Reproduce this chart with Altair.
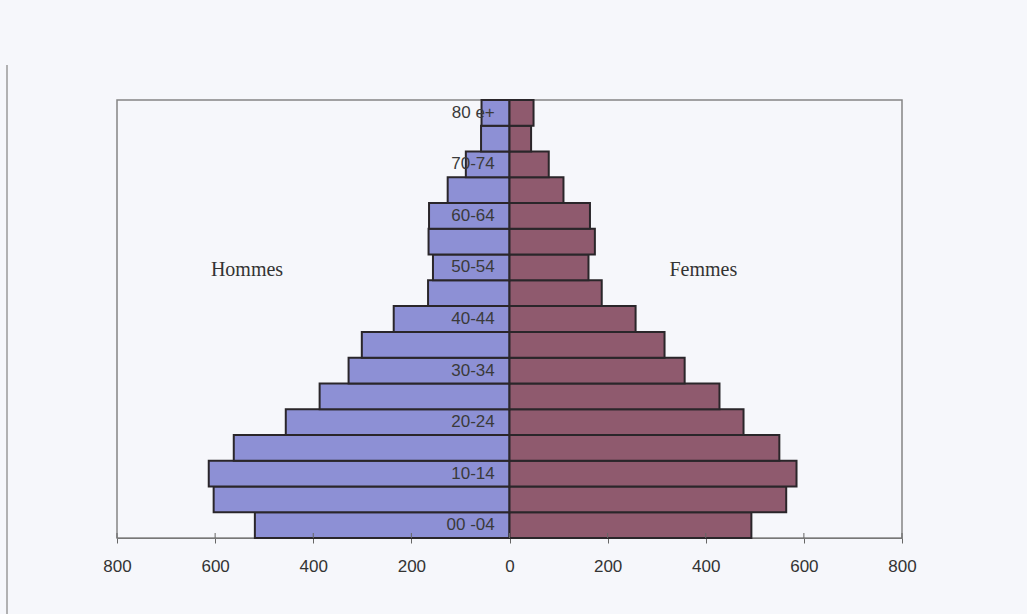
import altair as alt
import pandas as pd

# Age groups, bottom to top
ages = ["00 -04", "05-09", "10-14", "15-19", "20-24", "25-29", "30-34", "35-39",
        "40-44", "45-49", "50-54", "55-59", "60-64", "65-69", "70-74", "75-79", "80 e+"]
hommes = [519, 603, 613, 562, 456, 387, 328, 301, 236, 166, 156, 165, 164, 126, 89, 58, 57]
femmes = [493, 564, 585, 550, 477, 428, 357, 316, 257, 188, 161, 174, 164, 110, 80, 44, 49]
age_labels = ["00 -04", "10-14", "20-24", "30-34", "40-44", "50-54", "60-64", "70-74", "80 e+"]
tick_values = [-800, -600, -400, -200, 0, 200, 400, 600, 800]

W, H = 785, 438
order = ages[::-1]

rows = []
for a, h, f in zip(ages, hommes, femmes):
    rows.append({"age": a, "sexe": "Hommes", "v": -h})
    rows.append({"age": a, "sexe": "Femmes", "v": f})
df = pd.DataFrame(rows)

x_scale = alt.Scale(domain=[-800, 800], nice=False)
y_scale = alt.Scale(domain=order, paddingInner=0, paddingOuter=0)

bars = alt.Chart(df).mark_bar(stroke="#2a262a", strokeWidth=2).encode(
    x=alt.X("v:Q", scale=x_scale,
            axis=alt.Axis(values=tick_values, labelExpr="abs(datum.value)", grid=False,
                          title=None, tickSize=5, tickColor="#666", domainColor="#777",
                          domainWidth=1.2, labelFont="Liberation Sans", labelFontSize=17,
                          labelColor="#333", labelPadding=15, labelFlush=False)),
    y=alt.Y("age:N", scale=y_scale, axis=None),
    color=alt.Color("sexe:N", scale=alt.Scale(domain=["Hommes", "Femmes"],
                                              range=["#8d90d5", "#8f5a6e"]), legend=None),
)

# upward half of the axis ticks
ticks = alt.Chart(pd.DataFrame({"t": tick_values})).mark_rule(color="#666", strokeWidth=1).encode(
    x=alt.X("t:Q", scale=x_scale),
    y=alt.value(H - 5), y2=alt.value(H),
)

labels = alt.Chart(pd.DataFrame({"age": age_labels, "x": [-30] * len(age_labels)})).mark_text(
    align="right", baseline="middle", font="Liberation Sans", fontSize=17, color="#3a3a3a"
).encode(
    x=alt.X("x:Q", scale=x_scale),
    y=alt.Y("age:N", scale=y_scale, bandPosition=0.5),
    text="age:N",
)

sexes = alt.Chart(pd.DataFrame({"nom": ["Hommes", "Femmes"], "x": [-535, 395],
                                "age": ["50-54", "50-54"]})).mark_text(
    align="center", baseline="middle", font="Liberation Serif", fontSize=20, color="#333", dy=3
).encode(
    x=alt.X("x:Q", scale=x_scale),
    y=alt.Y("age:N", scale=y_scale, bandPosition=0.5),
    text="nom:N",
)

edge = alt.Chart(pd.DataFrame({"a": [0]})).mark_rule(color="#9a9a9a", strokeWidth=1.5).encode(
    x=alt.value(-110), y=alt.value(-35), y2=alt.value(514),
)

chart = alt.layer(bars, ticks, labels, sexes, edge).properties(
    width=W, height=H,
    autosize=alt.AutoSizeParams(type="none"),
    padding={"left": 117, "top": 100, "right": 125, "bottom": 76},
    background="#f6f7fb",
).configure_view(stroke="#858585", strokeWidth=1.5)

chart.save("out.html", embed_options={"renderer": "svg", "actions": False})
